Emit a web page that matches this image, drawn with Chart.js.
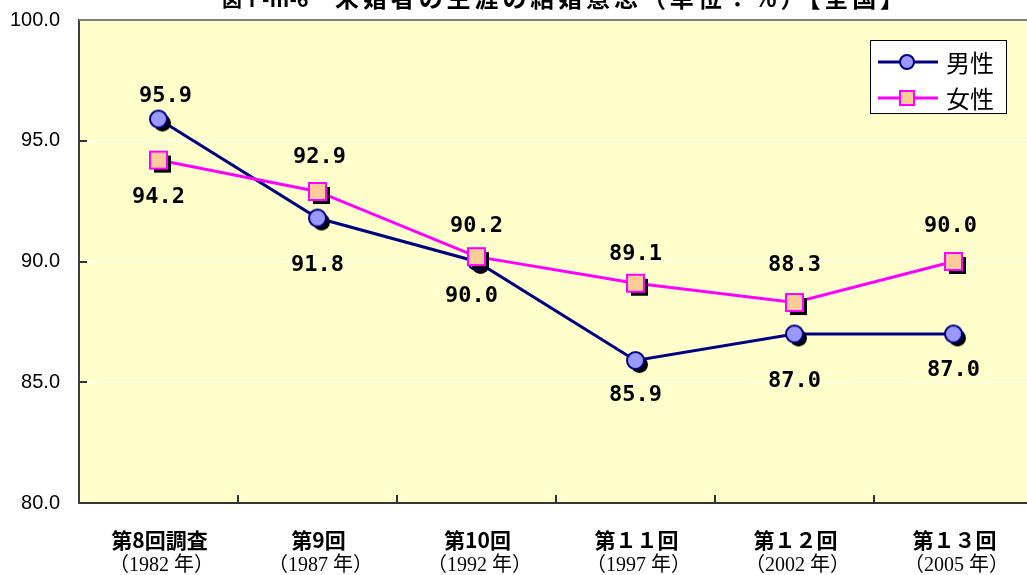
<!DOCTYPE html>
<html>
<head>
<meta charset="utf-8">
<script src="https://cdn.jsdelivr.net/npm/chart.js@4"></script>
<style>
  html, body { margin: 0; padding: 0; background: #fff; overflow: hidden; }
  #wrap { width: 1045px; height: 575px; }
</style>
</head>
<body>
<div id="wrap"><canvas id="myChart" width="1045" height="575"></canvas></div>
<script>
// データ
const categories = ['第8回調査', '第9回', '第10回', '第１１回', '第１２回', '第１３回'];
const surveyYears = ['（1982 年）', '（1987 年）', '（1992 年）', '（1997 年）', '（2002 年）', '（2005 年）'];
const maleValues = [95.9, 91.8, 90.0, 85.9, 87.0, 87.0];
const femaleValues = [94.2, 92.9, 90.2, 89.1, 88.3, 90.0];
const yMin = 80;
const yMax = 100;
const yStep = 5;

// ラベル位置（点からのずれ）
const maleLabelOffsets = [[7, -23], [0, 47], [-5, 35], [0, 35], [0, 47], [0, 36]];
const femaleLabelOffsets = [[0, 37], [2, -34], [0, -30], [0, -29], [0, -37], [-3, -35]];

const titleLeft = '図Ⅰ-Ⅲ-6';
const titleMain = '未婚者の生涯の結婚意思（単位：%）【全国】';

// 影つきマーカーを作る
function makeMarker(shape, fill, stroke) {
  const r = 8.5, off = 4;
  const size = Math.ceil(2 * (r + off + 2));
  const c = document.createElement('canvas');
  c.width = size; c.height = size;
  const g = c.getContext('2d');
  const cx = size / 2, cy = size / 2;
  const draw = (x, y, f, s) => {
    g.beginPath();
    if (shape === 'circle') {
      g.arc(x, y, r, 0, Math.PI * 2);
    } else {
      g.rect(x - 8.5, y - 8.5, 17, 17);
    }
    g.fillStyle = f;
    g.fill();
    if (s) { g.lineWidth = 2; g.strokeStyle = s; g.stroke(); }
  };
  draw(cx + off, cy + off, '#000', null);
  draw(cx, cy, fill, stroke);
  return c;
}

const maleMarker = makeMarker('circle', '#9999FF', '#000080');
const femaleMarker = makeMarker('rect', '#FFCC99', '#FF00FF');

const chartDecor = {
  id: 'chartDecor',
  beforeDraw(chart) {
    const { ctx, chartArea: a } = chart;
    ctx.save();
    ctx.fillStyle = '#FFFFCC';
    ctx.fillRect(a.left, a.top, a.right - a.left, a.bottom - a.top);
    ctx.restore();
  },
  beforeDatasetsDraw(chart) {
    const { ctx, chartArea: a, scales } = chart;
    ctx.save();
    // 上の枠線
    ctx.strokeStyle = '#808080';
    ctx.lineWidth = 2;
    ctx.beginPath();
    ctx.moveTo(a.left, a.top);
    ctx.lineTo(a.right, a.top);
    ctx.stroke();
    // 内向きの目盛り
    ctx.strokeStyle = '#333';
    ctx.lineWidth = 2;
    for (let v = yMin + yStep; v < yMax; v += yStep) {
      const y = Math.round(scales.y.getPixelForValue(v));
      ctx.beginPath();
      ctx.moveTo(a.left, y);
      ctx.lineTo(a.left + 8, y);
      ctx.stroke();
    }
    for (let i = 0; i < categories.length - 1; i++) {
      const x = Math.round((scales.x.getPixelForValue(i) + scales.x.getPixelForValue(i + 1)) / 2);
      ctx.beginPath();
      ctx.moveTo(x, a.bottom);
      ctx.lineTo(x, a.bottom - 8);
      ctx.stroke();
    }
    ctx.restore();
  },
  afterDraw(chart) {
    const { ctx, scales } = chart;
    ctx.save();
    // タイトル（上が切れている）
    ctx.fillStyle = '#000';
    ctx.textBaseline = 'alphabetic';
    ctx.textAlign = 'left';
    ctx.font = 'bold 20px "Noto Sans CJK JP"';
    ctx.fillText(titleLeft, 222, 7);
    ctx.font = 'bold 24px "Noto Sans CJK JP"';
    const w = ctx.measureText(titleMain).width;
    const n = [...titleMain].length;
    ctx.letterSpacing = Math.max(0, (573 - w) / n) + 'px';
    ctx.fillText(titleMain, 335, 7);
    ctx.letterSpacing = '0px';

    // x軸ラベル（2行）
    ctx.textAlign = 'center';
    ctx.textBaseline = 'middle';
    categories.forEach((c, i) => {
      const x = scales.x.getPixelForValue(i);
      ctx.font = 'bold 21px "Noto Sans CJK JP"';
      ctx.fillText(c, x + 1, 540);
      ctx.font = '20px "Liberation Serif", "Noto Sans CJK JP"';
      ctx.fillText(surveyYears[i], x + 3, 566);
    });

    // データラベル
    ctx.font = 'bold 22px "DejaVu Sans Mono"';
    const sets = [
      { values: maleValues, offs: maleLabelOffsets },
      { values: femaleValues, offs: femaleLabelOffsets }
    ];
    sets.forEach(s => {
      s.values.forEach((v, i) => {
        const x = scales.x.getPixelForValue(i) + s.offs[i][0];
        const y = scales.y.getPixelForValue(v) + s.offs[i][1];
        ctx.fillText(v.toFixed(1), x, y);
      });
    });

    // 凡例
    const lx = 870, ly = 40, lw = 136, lh = 73;
    ctx.fillStyle = '#fff';
    ctx.fillRect(lx, ly, lw, lh);
    ctx.strokeStyle = '#000';
    ctx.lineWidth = 1;
    ctx.strokeRect(lx + 0.5, ly + 0.5, lw, lh);
    const rows = [
      { label: chart.data.datasets[0].label, color: '#000080', fill: '#9999FF', shape: 'circle', y: 62 },
      { label: chart.data.datasets[1].label, color: '#FF00FF', fill: '#FFCC99', shape: 'rect', y: 98 }
    ];
    rows.forEach(r => {
      ctx.strokeStyle = r.color;
      ctx.lineWidth = 3;
      ctx.beginPath();
      ctx.moveTo(878, r.y);
      ctx.lineTo(938, r.y);
      ctx.stroke();
      ctx.beginPath();
      if (r.shape === 'circle') ctx.arc(907, r.y, 7, 0, Math.PI * 2);
      else ctx.rect(900, r.y - 7, 14, 14);
      ctx.fillStyle = r.fill;
      ctx.fill();
      ctx.lineWidth = 2;
      ctx.stroke();
      ctx.fillStyle = '#000';
      ctx.textAlign = 'left';
      ctx.textBaseline = 'middle';
      ctx.font = '24px "Noto Sans CJK JP"';
      ctx.fillText(r.label, 946, r.y + 1);
    });
    ctx.restore();
  }
};

new Chart(document.getElementById('myChart').getContext('2d'), {
  type: 'line',
  data: {
    labels: categories,
    datasets: [
      {
        label: '男性',
        data: maleValues,
        borderColor: '#000080',
        backgroundColor: '#9999FF',
        borderWidth: 3,
        pointStyle: maleMarker,
        pointRadius: 9,
        tension: 0,
        order: 1
      },
      {
        label: '女性',
        data: femaleValues,
        borderColor: '#FF00FF',
        backgroundColor: '#FFCC99',
        borderWidth: 3,
        pointStyle: femaleMarker,
        pointRadius: 9,
        tension: 0,
        order: 0
      }
    ]
  },
  options: {
    responsive: false,
    animation: false,
    layout: { padding: { top: 20, right: 9, left: 0, bottom: 0 } },
    plugins: {
      legend: { display: false },
      title: { display: false },
      tooltip: { enabled: false }
    },
    scales: {
      x: {
        offset: true,
        grid: { display: false, drawTicks: false },
        border: { display: true, color: '#333', width: 2 },
        ticks: { display: false },
        afterFit: (s) => { s.height = 72; s.paddingLeft = 0; s.paddingRight = 0; }
      },
      y: {
        min: yMin,
        max: yMax,
        grid: {
          drawTicks: false,
          color: (c) => (c.tick && (c.tick.value === yMin || c.tick.value === yMax)) ? 'rgba(0,0,0,0)' : '#FFFFFF',
          lineWidth: 1
        },
        border: { display: true, color: '#404040', width: 2 },
        ticks: {
          stepSize: yStep,
          padding: 19,
          color: '#000',
          font: { family: '"Liberation Sans", Arial', size: 20 },
          callback: (v) => Number(v).toFixed(1)
        },
        afterFit: (s) => { s.width = 79; s.paddingTop = 0; s.paddingBottom = 0; }
      }
    }
  },
  plugins: [chartDecor]
});
</script>
</body>
</html>
